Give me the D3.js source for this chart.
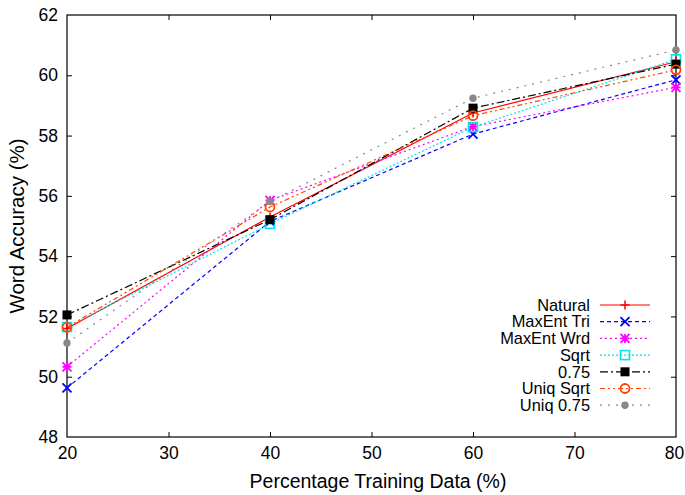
<!DOCTYPE html>
<html><head><meta charset="utf-8">
<script src="https://cdn.jsdelivr.net/npm/d3@7"></script>
<style>body{margin:0;background:#fff}svg{display:block;font-family:"Liberation Sans",Arial,sans-serif}</style>
</head><body><svg id="c" width="685" height="495"></svg>
<script>
const xValues = [20, 40, 60, 80];
const seriesNames = ["Natural","MaxEnt Tri","MaxEnt Wrd","Sqrt","0.75","Uniq Sqrt","Uniq 0.75"];
const natural   = [51.6, 55.3, 58.75, 60.45];
const maxentTri = [49.63, 55.15, 58.05, 59.85];
const maxentWrd = [50.33, 55.85, 58.3, 59.6];
const sqrtS     = [51.65, 55.07, 58.28, 60.53];
const p075      = [52.05, 55.21, 58.91, 60.37];
const uniqSqrt  = [51.64, 55.63, 58.66, 60.18];
const uniq075   = [51.12, 55.81, 59.24, 60.84];
const xTicks = [20,30,40,50,60,70,80];
const yTicks = [48,50,52,54,56,58,60,62];

const seriesValues = [natural, maxentTri, maxentWrd, sqrtS, p075, uniqSqrt, uniq075];
const styles = [
  {color:"#ff0000", dash:null, marker:"plus"},
  {color:"#0000ff", dash:"4,3", marker:"cross"},
  {color:"#ff00ff", dash:"2,3", marker:"star"},
  {color:"#00e5ee", dash:"2,2", marker:"osquare"},
  {color:"#000000", dash:"8,3,2,3", marker:"fsquare"},
  {color:"#ff4500", dash:"5,3,2,3,2,3", marker:"ocircle"},
  {color:"#888888", dash:"2,6", marker:"fcircle"}
];

const L=67, R=676, T=15, B=437;
const svg=d3.select("#c");
const x=d3.scaleLinear().domain([20,80]).range([L,R]);
const y=d3.scaleLinear().domain([48,62]).range([B,T]);

svg.append("rect").attr("x",L).attr("y",T).attr("width",R-L).attr("height",B-T)
  .attr("fill","none").attr("stroke","#000").attr("stroke-width",1.2);

const fs=17.5;
const ax=svg.append("g").attr("transform",`translate(0,${B})`)
  .call(d3.axisBottom(x).tickValues(xTicks).tickSize(-5).tickPadding(10).tickFormat(d3.format("d")));
const ay=svg.append("g").attr("transform",`translate(${L},0)`)
  .call(d3.axisLeft(y).tickValues(yTicks).tickSize(-5).tickPadding(9).tickFormat(d3.format("d")));
const ax2=svg.append("g").attr("transform",`translate(0,${T})`)
  .call(d3.axisTop(x).tickValues(xTicks).tickSize(-5).tickFormat(""));
const ay2=svg.append("g").attr("transform",`translate(${R},0)`)
  .call(d3.axisRight(y).tickValues(yTicks).tickSize(-5).tickFormat(""));
[ax,ay,ax2,ay2].forEach(g=>{
  g.select(".domain").remove();
  g.selectAll("line").attr("stroke","#000");
  g.selectAll("text").attr("font-size",fs).attr("fill","#000").attr("font-family","Liberation Sans, Arial, sans-serif");
});
ax.selectAll(".tick").filter(d=>d===80).select("text").attr("dx",-2);
ax.selectAll(".tick").filter(d=>d===20||d===80).select("line").remove();
ax2.selectAll(".tick").filter(d=>d===20||d===80).select("line").remove();
ay.selectAll(".tick").filter(d=>d===48||d===62).select("line").remove();
ay2.selectAll(".tick").filter(d=>d===48||d===62).select("line").remove();

svg.append("text").attr("x",378).attr("y",488).attr("text-anchor","middle")
  .attr("font-size",19.5).text("Percentage Training Data (%)");
svg.append("text").attr("transform",`translate(24,${(T+B)/2}) rotate(-90)`).attr("text-anchor","middle")
  .attr("font-size",20.5).text("Word Accuracy (%)");

function drawMarker(g, type, cx, cy, color){
  const s=4.5;
  if(type==="plus"){
    g.append("path").attr("d",`M${cx-s},${cy}H${cx+s}M${cx},${cy-s}V${cy+s}`).attr("stroke",color).attr("stroke-width",1.5);
  } else if(type==="cross"){
    g.append("path").attr("d",`M${cx-s},${cy-s}L${cx+s},${cy+s}M${cx-s},${cy+s}L${cx+s},${cy-s}`).attr("stroke",color).attr("stroke-width",1.8);
  } else if(type==="star"){
    g.append("path").attr("d",`M${cx-s},${cy}H${cx+s}M${cx},${cy-s}V${cy+s}M${cx-s},${cy-s}L${cx+s},${cy+s}M${cx-s},${cy+s}L${cx+s},${cy-s}`).attr("stroke",color).attr("stroke-width",1.8);
  } else if(type==="osquare"){
    g.append("rect").attr("x",cx-s).attr("y",cy-s).attr("width",2*s).attr("height",2*s).attr("fill","none").attr("stroke",color).attr("stroke-width",1.6);
  } else if(type==="fsquare"){
    g.append("rect").attr("x",cx-s).attr("y",cy-s).attr("width",2*s).attr("height",2*s).attr("fill",color);
  } else if(type==="ocircle"){
    g.append("circle").attr("cx",cx).attr("cy",cy).attr("r",s).attr("fill","none").attr("stroke",color).attr("stroke-width",1.8);
  } else if(type==="fcircle"){
    g.append("circle").attr("cx",cx).attr("cy",cy).attr("r",s-0.8).attr("fill",color);
  }
}

const line=d3.line().x((d,i)=>x(xValues[i])).y(d=>y(d));
const gData=svg.append("g");
seriesValues.forEach((vals,k)=>{
  const st=styles[k];
  gData.append("path").datum(vals).attr("d",line).attr("fill","none")
    .attr("stroke",st.color).attr("stroke-width",1.2).attr("stroke-dasharray",st.dash);
});
seriesValues.forEach((vals,k)=>{
  const st=styles[k];
  vals.forEach((v,i)=>drawMarker(gData, st.marker, x(xValues[i]), y(v), st.color));
});

const lg=svg.append("g");
seriesNames.forEach((name,k)=>{
  const st=styles[k];
  const yy=305+k*16.7;
  lg.append("text").attr("x",590).attr("y",yy).attr("dy","0.35em").attr("text-anchor","end")
    .attr("font-size",16.4).text(name);
  lg.append("line").attr("x1",600).attr("x2",650).attr("y1",yy).attr("y2",yy)
    .attr("stroke",st.color).attr("stroke-width",1.2).attr("stroke-dasharray",st.dash);
  drawMarker(lg, st.marker, 625, yy, st.color);
});
</script></body></html>
